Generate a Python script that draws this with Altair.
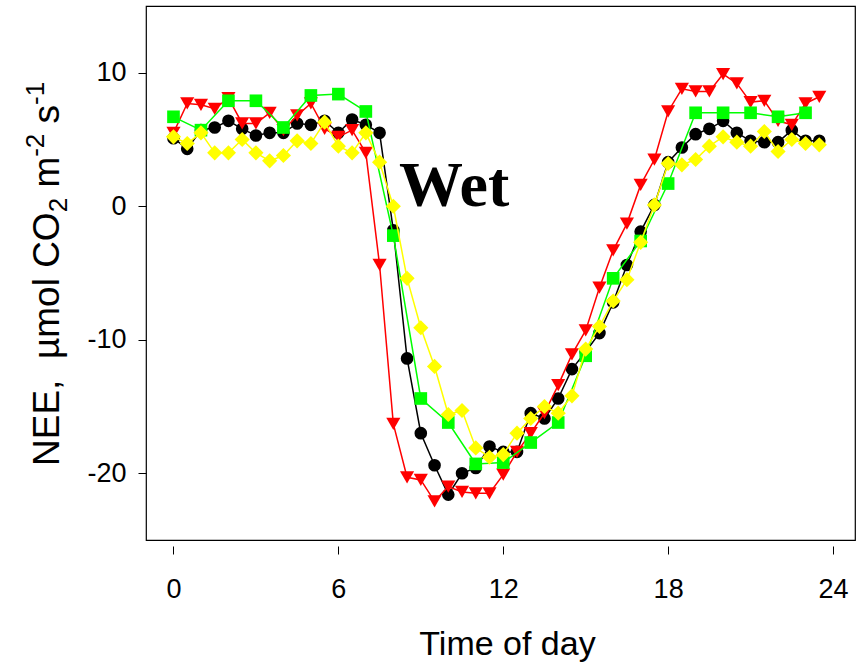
import altair as alt
import pandas as pd

# Time of day (half-hourly and hourly)
hours = [0, 0.5, 1, 1.5, 2, 2.5, 3, 3.5, 4, 4.5, 5, 5.5, 6, 6.5, 7, 7.5,
         8, 8.5, 9, 9.5, 10, 10.5, 11, 11.5, 12, 12.5, 13, 13.5, 14, 14.5, 15, 15.5,
         16, 16.5, 17, 17.5, 18, 18.5, 19, 19.5, 20, 20.5, 21, 21.5, 22, 22.5, 23, 23.5]
hours_hourly = [0, 1, 2, 3, 4, 5, 6, 7, 8, 9, 10, 11, 12, 13, 14, 15, 16, 17,
                18, 19, 20, 21, 22, 23]

black = [5.1, 4.3, 5.7, 5.9, 6.4, 5.8, 5.3, 5.5, 5.5, 6.2, 6.1, 6.4, 5.5, 6.5, 6.1, 5.5,
         -1.8, -11.4, -17.0, -19.4, -21.6, -20.0, -19.6, -18.0, -18.4, -18.4, -15.5, -15.9,
         -14.4, -12.2, -10.9, -9.5, -7.2, -4.4, -1.9, 0.1, 3.3, 4.4, 5.4, 5.8, 6.4, 5.5,
         4.9, 4.8, 4.8, 5.7, 4.9, 4.9]
red = [5.5, 7.7, 7.6, 7.3, 8.1, 6.2, 6.2, 7.0, 5.7, 6.8, 7.7, 5.8, 5.2, 5.7, 4.0, -4.4,
       -16.3, -20.3, -20.5, -22.1, -21.0, -21.4, -21.5, -21.5, -20.1, -18.4, -17.0, -15.5,
       -13.4, -11.1, -9.3, -6.1, -3.3, -1.3, 1.6, 3.5, 7.1, 8.8, 8.6, 8.6, 9.9, 9.2,
       7.8, 7.9, 6.4, 6.1, 7.7, 8.2]
green = [6.7, 5.7, 7.9, 7.9, 5.9, 8.3, 8.4, 7.1, -2.2, -14.4, -16.2, -19.3, -19.2, -17.7,
         -16.2, -11.2, -5.4, -2.6, 1.7, 7.0, 7.0, 7.0, 6.7, 7.0]
yellow = [5.2, 4.7, 5.5, 4.0, 4.0, 5.0, 4.0, 3.4, 3.8, 4.9, 4.7, 6.3, 4.5, 4.0, 5.5, 3.3,
          0.0, -5.4, -9.1, -12.0, -15.6, -15.3, -18.1, -18.8, -18.6, -17.0, -15.9, -15.0,
          -15.5, -14.2, -10.7, -9.0, -7.1, -5.5, -2.7, 0.1, 3.2, 3.1, 3.5, 4.5, 5.2, 4.8,
          4.5, 5.6, 4.1, 5.0, 4.7, 4.6]

x_ticks = [0, 6, 12, 18, 24]
y_ticks = [-20, -10, 0, 10]
x_title = "Time of day"
# y title pieces: (text, kind); kind n = normal, sub = subscript, sup = superscript,
# gap = number of blank spaces to advance
y_title_parts = [("NEE,", "n"), (2, "gap"), ("\u00b5mol", "n"), (1, "gap"), ("CO", "n"),
                 ("2", "sub"), (1, "gap"), ("m", "n"), ("-2", "sup"), (1, "gap"),
                 ("s", "n"), ("-1", "sup")]
annotation = ["Wet"]

W, H = 709, 534
LEFT, TOP = 146, 6
FONT = "Liberation Sans"

xscale = alt.Scale(domain=[-1, 24.8], nice=False, zero=False)
yscale = alt.Scale(domain=[-25, 15], nice=False, zero=False)

minus_fix = "replace(datum.label, '\u2212', '-')"

xaxis = alt.Axis(values=x_ticks, grid=False, domain=False, tickSize=8, offset=6,
                 tickColor="black", labelColor="black", labelFont=FONT, labelFontSize=27,
                 labelPadding=22, labelExpr=minus_fix,
                 title=x_title, titleFont=FONT, titleFontSize=34,
                 titleFontWeight="normal", titleColor="black", titleX=361, titleY=108,
                 titleBaseline="alphabetic", titleAlign="center")
yaxis = alt.Axis(values=y_ticks, grid=False, domain=False, tickSize=8,
                 tickColor="black", labelColor="black", labelFont=FONT, labelFontSize=27,
                 labelPadding=12, labelExpr=minus_fix, title="")


def series(times, vals, color, shape, size):
    df = pd.DataFrame({"t": times, "v": vals})
    base = alt.Chart(df).encode(
        x=alt.X("t:Q", scale=xscale, axis=xaxis),
        y=alt.Y("v:Q", scale=yscale, axis=yaxis),
    )
    line = base.mark_line(color=color, strokeWidth=1.5)
    pts = base.mark_point(shape=shape, filled=True, color=color, size=size, opacity=1)
    return [line, pts]


layers = []
layers += series(hours, black, "#000000", "circle", 160)
layers += series(hours, red, "#FF0000", "triangle-down", 200)
layers += series(hours_hourly, green, "#00FF00", "square", 160)
layers += series(hours, yellow, "#FFFF00", "diamond", 230)

# "Wet" annotation
wet = alt.Chart(pd.DataFrame({"label": annotation})).mark_text(
    font="Liberation Serif", fontWeight="bold", fontSize=64, align="left",
    baseline="alphabetic", color="black"
).encode(text="label:N", x=alt.value(399 - LEFT), y=alt.value(206 - TOP))
layers.append(wet)

# Rotated y-axis title with sub/superscripts, assembled piece by piece
ARIAL_W = {"N": 0.722, "E": 0.667, ",": 0.278, "\u00b5": 0.576,
           "m": 0.833, "o": 0.556, "l": 0.222, "C": 0.722, "O": 0.778,
           "2": 0.556, "-": 0.333, "s": 0.5, "1": 0.556}
SPACE_W = 0.278
F_MAIN, F_SMALL = 37, 26
base_x = 59          # baseline x of main text (page px)
start_y = 466        # page y where title starts (reads upward)
cum = 0.0
for txt, kind in y_title_parts:
    if kind == "gap":
        cum += txt * SPACE_W * F_MAIN
        continue
    fs = F_MAIN if kind == "n" else F_SMALL
    shift = 0 if kind == "n" else (8 if kind == "sub" else -15)
    piece = alt.Chart(pd.DataFrame({"label": [txt]})).mark_text(
        font=FONT, fontSize=fs, angle=270, align="left", baseline="alphabetic",
        color="black"
    ).encode(text="label:N",
             x=alt.value(base_x + shift - LEFT),
             y=alt.value(start_y - cum - TOP))
    layers.append(piece)
    cum += sum(ARIAL_W.get(ch, 0.556) for ch in txt) * fs

chart = alt.layer(*layers).properties(
    width=W, height=H,
    autosize=alt.AutoSizeParams(type="none"),
    padding={"left": LEFT, "top": TOP, "right": 8, "bottom": 127},
).configure_view(stroke="black", strokeWidth=1.2)

chart.save("out.html", embed_options={"renderer": "svg", "actions": False})
